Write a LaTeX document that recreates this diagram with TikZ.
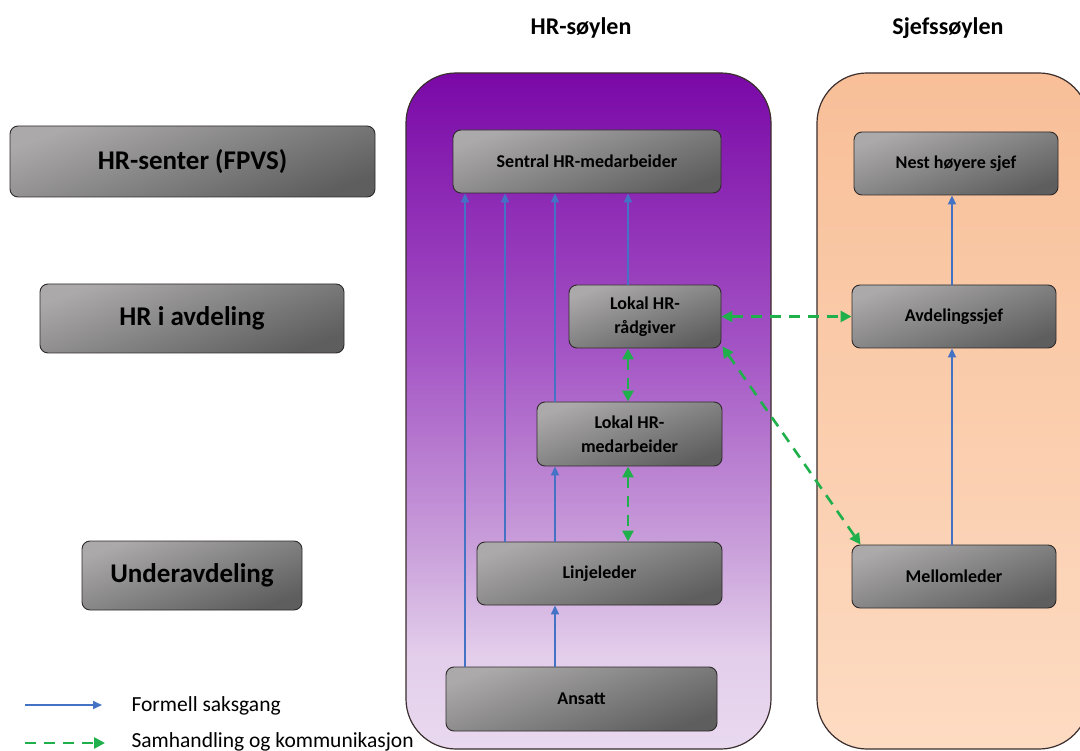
\documentclass[tikz,border=0pt]{standalone}
\usepackage{fontspec}
\setmainfont{Carlito}
\usetikzlibrary{arrows.meta}

\definecolor{boxtop}{HTML}{ABA9A9}
\definecolor{boxbot}{HTML}{5E5E5E}
\definecolor{boxline}{HTML}{2E2A2A}
\definecolor{colline}{HTML}{3A2E2E}
\definecolor{purptop}{HTML}{7A08A7}
\definecolor{purpmid}{HTML}{A352C4}
\definecolor{purplow}{HTML}{C99FDA}
\definecolor{purpbot}{HTML}{E9D9EF}
\definecolor{orgtop}{HTML}{F8BF98}
\definecolor{orgbot}{HTML}{FDDBC2}
\definecolor{formblue}{HTML}{4472C4}
\definecolor{samgreen}{HTML}{1FB04B}

\pgfdeclareverticalshading{hrcol}{100bp}{color(0bp)=(purpbot); color(25bp)=(purpbot); color(32bp)=(purpbot!80!purplow); color(40bp)=(purplow); color(55bp)=(purpmid); color(75bp)=(purptop); color(100bp)=(purptop)}

\tikzset{
  unit/.style={draw=boxline, line width=0.9, rounded corners=8,
    top color=boxtop, bottom color=boxbot, shading angle=20,
    font=\bfseries\fontsize{18}{24}\selectfont, align=center, inner sep=0},
  level/.style={unit, font=\bfseries\fontsize{27}{30}\selectfont},
  column/.style={draw=colline, line width=1.2, rounded corners=50},
  head/.style={font=\bfseries\fontsize{24}{27}\selectfont},
  legtext/.style={anchor=west, font=\fontsize{21.5}{24}\selectfont},
  formal/.style={draw=formblue, line width=1.8, -{Triangle[length=9,width=8]}},
  samh/.style={draw=samgreen, line width=2.6, dash pattern=on 11 off 8,
    {Triangle[length=11,width=11]}-{Triangle[length=11,width=11]}},
}

\begin{document}
\begin{tikzpicture}[x=1pt,y=-1pt]
\useasboundingbox (0,0) rectangle (1080,751);
\fill[white] (0,0) rectangle (1080,751);

\draw[column, shading=hrcol] (406,73) rectangle (771,749);
\draw[column, top color=orgtop, bottom color=orgbot] (817,73) rectangle (1089,749);

\node[head] (hrhead) at (581,28) {HR-søylen};
\node[head] (sjefhead) at (948,28) {Sjefssøylen};

\node[level, minimum width=365, minimum height=71] (hrsenter) at (192.5,161.5) {HR-senter (FPVS)};
\node[level, minimum width=304, minimum height=69] (hravd) at (192,318.5) {HR i avdeling};
\node[level, minimum width=220, minimum height=69] (underavd) at (192,575.5) {Underavdeling};

\node[unit, minimum width=268, minimum height=63] (sentral) at (587,161.5) {Sentral HR-medarbeider};
\node[unit, minimum width=152, minimum height=63] (lokalrad) at (645,316.5) {Lokal HR-\\rådgiver};
\node[unit, minimum width=185, minimum height=64] (lokalmed) at (629.5,434) {Lokal HR-\\medarbeider};
\node[unit, minimum width=245, minimum height=63] (linje) at (599.5,573.5) {Linjeleder};
\node[unit, minimum width=271, minimum height=64] (ansatt) at (581.5,699) {Ansatt};

\node[unit, minimum width=204, minimum height=63] (nest) at (956,163.5) {Nest høyere sjef};
\node[unit, minimum width=204, minimum height=63] (avdsjef) at (954,316.5) {Avdelingssjef};
\node[unit, minimum width=204, minimum height=63] (mellom) at (954,576.5) {Mellomleder};

\coordinate (xa) at (465,0);
\coordinate (xb) at (505,0);
\coordinate (xc) at (555,0);
\coordinate (xd) at (628,0);
\coordinate (xe) at (952,0);

\draw[formal] (ansatt.north -| xa) -- (sentral.south -| xa);
\draw[formal] (linje.north -| xb) -- (sentral.south -| xb);
\draw[formal] (lokalmed.north -| xc) -- (sentral.south -| xc);
\draw[formal] (lokalrad.north -| xd) -- (sentral.south -| xd);
\draw[formal] (linje.north -| xc) -- (lokalmed.south -| xc);
\draw[formal] (ansatt.north -| xc) -- (linje.south -| xc);
\draw[formal] (avdsjef.north -| xe) -- (nest.south -| xe);
\draw[formal] (mellom.north -| xe) -- (avdsjef.south -| xe);

\draw[samh] (lokalrad.east) -- (avdsjef.west);
\draw[samh] (lokalrad.south -| xd) -- (lokalmed.north -| xd);
\draw[samh] (lokalmed.south -| xd) -- (linje.north -| xd);
\draw[samh] ([xshift=1,yshift=2]lokalrad.south east) -- ([xshift=9]mellom.north west);

\coordinate (leg1a) at (25,705);
\coordinate (leg1b) at (102,705);
\coordinate (leg2a) at (25,743);
\coordinate (leg2b) at (105,743);
\draw[formal] (leg1a) -- (leg1b);
\draw[samh, {-Triangle[length=11,width=11]}] (leg2a) -- (leg2b);
\node[legtext] (leg1) at (128,706) {Formell saksgang};
\node[legtext] (leg2) at (128,742) {Samhandling og kommunikasjon};
\end{tikzpicture}
\end{document}
